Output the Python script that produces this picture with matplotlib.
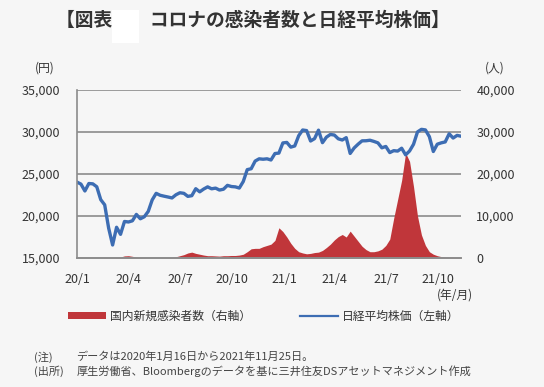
"""新型コロナの感染者数と日経平均株価"""
import numpy as np
import pandas as pd
import matplotlib
matplotlib.use('Agg')
import matplotlib.pyplot as plt
from matplotlib.patches import Patch, Rectangle
from matplotlib.lines import Line2D

plt.rcParams['font.family'] = ['Noto Sans CJK JP', 'DejaVu Sans']

# weekly points, 2020/1/16 .. 2021/11/25 (Thursdays)
weeks = pd.date_range('2020-01-16', '2021-11-25', freq='7D')

# 日経平均株価 (円)
nikkei = [
    24040, 23800, 22980, 23870, 23830, 23480, 21950, 21330, 18560, 16550,
    18660, 17820, 19350, 19290, 19430, 20190, 19670, 19910, 20550, 21920,
    22700, 22470, 22360, 22260, 22150, 22530, 22770, 22700, 22340, 22420,
    23250, 22880, 23210, 23470, 23240, 23320, 23090, 23190, 23650, 23510,
    23470, 23330, 24110, 25520, 25630, 26540, 26810, 26760, 26810, 26670,
    27440, 27490, 28700, 28760, 28200, 28340, 29560, 30240, 30170, 28930,
    29210, 30220, 28730, 29390, 29710, 29640, 29190, 29050, 29330, 27450,
    28100, 28550, 28950, 28960, 29020, 28880, 28710, 28120, 28280, 27550,
    27780, 27730, 28070, 27280, 27740, 28540, 30010, 30320, 30250, 29450,
    27680, 28550, 28710, 28820, 29790, 29280, 29600, 29500,
]

# 国内新規感染者数 (人)
cases = [
    0, 5, 10, 10, 15, 20, 30, 50, 40, 60,
    100, 250, 500, 550, 400, 200, 100, 50, 30, 30,
    40, 40, 50, 80, 150, 300, 550, 800, 1200, 1400,
    1100, 900, 700, 550, 550, 500, 450, 550, 550, 600,
    600, 700, 900, 1500, 2200, 2300, 2300, 2700, 3000, 3300,
    4200, 7200, 6300, 5000, 3500, 2300, 1500, 1200, 1000, 1100,
    1300, 1400, 1800, 2500, 3300, 4300, 5100, 5600, 5000, 6400,
    5200, 4000, 2800, 2000, 1500, 1500, 1700, 2100, 3000, 4500,
    9500, 14000, 18500, 25000, 23000, 17000, 10000, 5500, 3000, 1500,
    900, 550, 330, 250, 200, 170, 130, 100,
]

tick_dates = pd.to_datetime(['2020-01-16', '2020-04-16', '2020-07-16',
                             '2020-10-16', '2021-01-16', '2021-04-16',
                             '2021-07-16', '2021-10-16'])
tick_labels = ['20/1', '20/4', '20/7', '20/10', '21/1', '21/4', '21/7', '21/10']

bg = '#f6f6f6'
red = '#c0363a'
blue = '#3d6db3'
grid = '#8c8c8c'
txt = '#333333'

fig = plt.figure(figsize=(5.44, 3.87), dpi=100, facecolor=bg)
ax = fig.add_axes([0.1415, 0.3333, 0.706, 0.4341])
ax2 = ax.twinx()
ax.set_zorder(ax2.get_zorder() + 1)
ax2.set_facecolor('none')
ax.patch.set_visible(False)

# cases on right axis (area)
ax2.fill_between(weeks, cases, color=red, lw=0)
ax2.set_ylim(0, 40000)
ax2.set_yticks(range(0, 40001, 10000))
ax2.set_yticklabels([f'{v:,}' for v in range(0, 40001, 10000)])

# nikkei on left axis
ax.plot(weeks, nikkei, color=blue, lw=2.4)
ax.set_ylim(15000, 35000)
ax.set_yticks(range(15000, 35001, 5000))
ax.set_yticklabels([f'{v:,}' for v in range(15000, 35001, 5000)])
ax.set_xlim(weeks[0], weeks[-1])
ax.set_xticks(tick_dates)
ax.set_xticklabels(tick_labels)

for y in range(20000, 35001, 5000):
    ax2.axhline((y - 15000) * 2, color=grid, lw=1.2, zorder=0)

for a in (ax, ax2):
    for s in ('top', 'right'):
        a.spines[s].set_visible(False)
    a.spines['left'].set_color(grid)
    a.spines['bottom'].set_color(grid)
    a.spines['left'].set_linewidth(1.2)
    a.spines['bottom'].set_linewidth(1.2)
    a.tick_params(length=0, labelsize=9, colors=txt)
ax2.spines['left'].set_visible(False)
ax.tick_params(axis='x', pad=11)
ax.tick_params(axis='y', pad=12)
ax2.tick_params(axis='y', pad=11)

# title with blanked-out word
fig.text(0.465, 0.948, '【図表　　コロナの感染者数と日経平均株価】', ha='center',
         va='center', fontsize=13.5, fontweight='bold', color=txt)
fig.patches.append(Rectangle((0.206, 0.89), 0.05, 0.085, transform=fig.transFigure,
                             facecolor='white', edgecolor='none', zorder=5))

fig.text(0.083, 0.825, '(円)', ha='center', va='center', fontsize=8.5, color=txt)
fig.text(0.91, 0.825, '(人)', ha='center', va='center', fontsize=8.5, color=txt)
fig.text(0.87, 0.238, '(年/月)', ha='right', va='center', fontsize=8.5, color=txt)

handles = [Patch(facecolor=red, edgecolor='none'),
           Line2D([], [], color=blue, lw=1.6)]
fig.legend(handles, ['国内新規感染者数（右軸）', '日経平均株価（左軸）'],
           loc='center', bbox_to_anchor=(0.485, 0.183), ncol=2, frameon=False,
           fontsize=8.5, handlelength=3.2, handleheight=0.45, columnspacing=4.2,
           handletextpad=0.3, labelcolor=txt)

fig.text(0.062, 0.078, '(注)', fontsize=8, va='center', color='#444444')
fig.text(0.14, 0.078, 'データは2020年1月16日から2021年11月25日。', fontsize=8,
         va='center', color='#444444')
fig.text(0.062, 0.04, '(出所)', fontsize=8, va='center', color='#444444')
fig.text(0.14, 0.04, '厚生労働省、Bloombergのデータを基に三井住友DSアセットマネジメント作成',
         fontsize=8, va='center', color='#444444')

fig.savefig('out.png', dpi=100, facecolor=bg)
